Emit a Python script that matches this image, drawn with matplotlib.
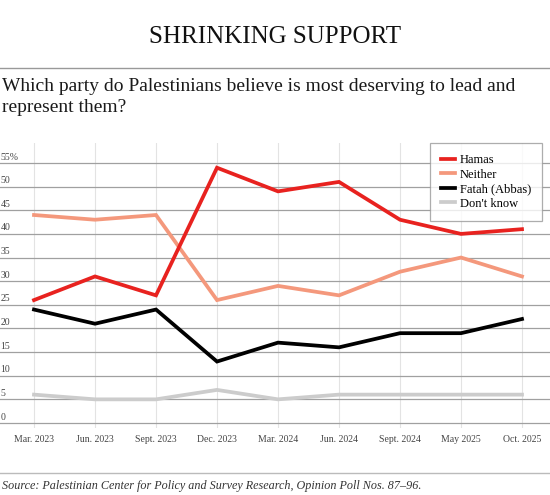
import matplotlib
matplotlib.use("Agg")
from matplotlib import pyplot as plt
from matplotlib.lines import Line2D
import matplotlib.transforms as mtransforms

# poll dates and shares (%)
dates = ['Mar. 2023', 'Jun. 2023', 'Sept. 2023', 'Dec. 2023', 'Mar. 2024',
         'Jun. 2024', 'Sept. 2024', 'May 2025', 'Oct. 2025']
hamas = [26, 31, 27, 54, 49, 51, 43, 40, 41]
neither = [44, 43, 44, 26, 29, 27, 32, 35, 31]
fatah = [24, 21, 24, 13, 17, 16, 19, 19, 22]
dont_know = [6, 5, 5, 7, 5, 6, 6, 6, 6]
yticks = [0, 5, 10, 15, 20, 25, 30, 35, 40, 45, 50, 55]

W, H = 550, 495
plt.rcParams['font.family'] = ['Liberation Serif', 'DejaVu Serif']

fig = plt.figure(figsize=(W / 100, H / 100), dpi=100)
fig.patch.set_facecolor('white')

def fy(px):
    return 1 - px / H

# header / footer text
fig.text(0.5, fy(37), 'SHRINKING SUPPORT', ha='center', va='center',
         fontsize=18, color='#111111')
fig.add_artist(Line2D([0, 1], [fy(68), fy(68)], color='#999999', lw=1))
fig.text(2 / W, fy(97), 'Which party do Palestinians believe is most deserving to lead and\nrepresent them?',
         ha='left', va='center', fontsize=14, color='#1a1a1a', linespacing=1.35)
fig.add_artist(Line2D([0, 1], [fy(473), fy(473)], color='#bbbbbb', lw=1))
fig.text(2 / W, fy(486), 'Source: Palestinian Center for Policy and Survey Research, Opinion Poll Nos. 87\u201396.',
         ha='left', va='center', fontsize=8.7, style='italic', color='#333333')

# plot area spans full width
ax = fig.add_axes([0, fy(428), 1, (428 - 143) / H])
x = list(range(len(dates)))
step = 61.0
ax.set_xlim(-34 / step, 8 + 28 / step)
ax.set_ylim(-1.06, 59.23)

for v in yticks:
    ax.axhline(v, color='#a0a0a0', lw=0.9, zorder=1)
for xi in x:
    ax.axvline(xi, color='#e3e3e3', lw=0.8, zorder=0)

ax.plot(x, dont_know, color='#cccccc', lw=2.7, label="Don't know", zorder=3, solid_joinstyle='miter')
ax.plot(x, fatah, color='#000000', lw=2.7, label='Fatah (Abbas)', zorder=4, solid_joinstyle='miter')
ax.plot(x, neither, color='#f4987c', lw=2.7, label='Neither', zorder=5, solid_joinstyle='miter')
ax.plot(x, hamas, color='#e8221f', lw=2.7, label='Hamas', zorder=6, solid_joinstyle='miter')

# y labels sit just above their gridline
trans = mtransforms.blended_transform_factory(ax.transAxes, ax.transData)
for v in yticks:
    lab = f'{v}%' if v == 55 else str(v)
    ax.text(0.5 / W, v + 0.3, lab, transform=trans, ha='left', va='bottom',
            fontsize=7, color='#444444')

ax.set_xticks(x)
ax.set_xticklabels(dates, fontsize=7, color='#444444')
ax.tick_params(axis='x', length=0, pad=5)
ax.set_yticks([])
for s in ax.spines.values():
    s.set_visible(False)

handles, labels = ax.get_legend_handles_labels()
order = [3, 2, 1, 0]
leg = ax.legend([handles[i] for i in order], [labels[i] for i in order],
                loc='upper right', bbox_to_anchor=(542 / W, fy(143)),
                bbox_transform=fig.transFigure, frameon=True, fancybox=False,
                fontsize=9, handlelength=1.1, handletextpad=0.4,
                labelspacing=0.2, borderpad=0.9, borderaxespad=0)
leg.get_frame().set_edgecolor('#999999')
leg.get_frame().set_linewidth(0.9)
leg.set_zorder(10)

fig.savefig('out.png', dpi=100, facecolor='white')
